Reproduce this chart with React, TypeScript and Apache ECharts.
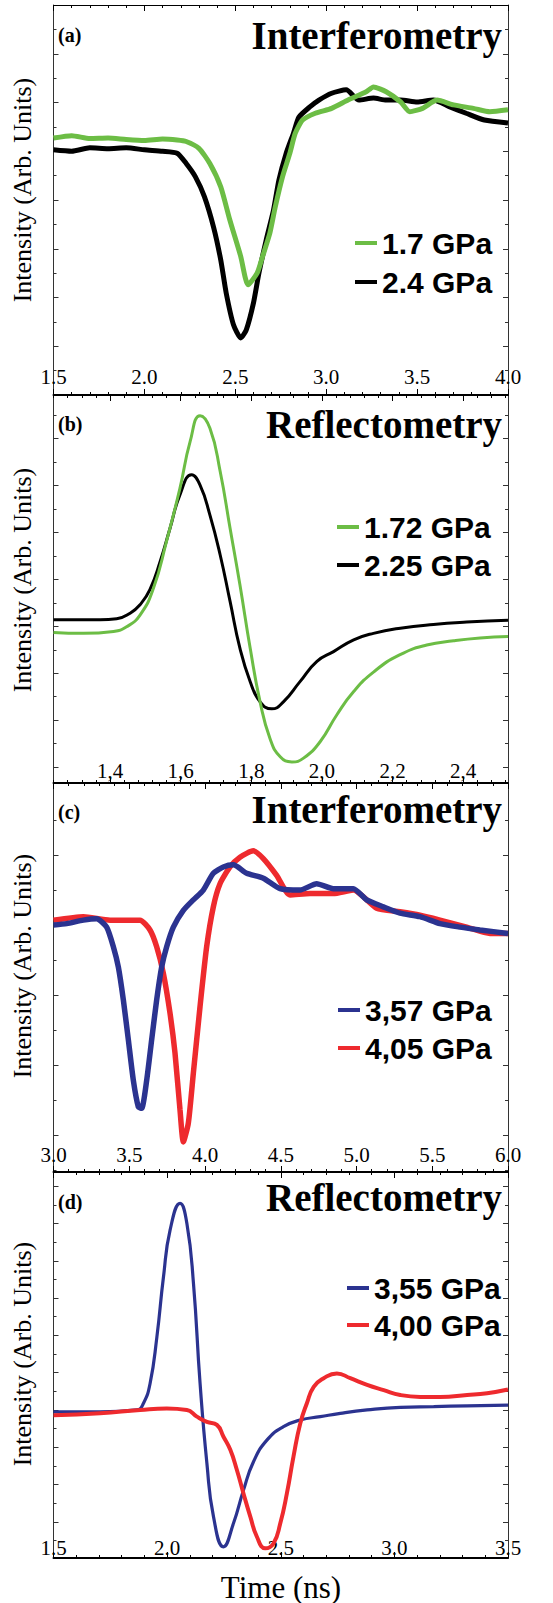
import React, { useEffect, useRef } from "react";
import * as echarts from "echarts";

// ---------------- data (time in ns, intensity in arbitrary units) ----------------
// Panel (a) Interferometry
const A_17GPA: [number, number][] = [
  [1.5, 5.27], [1.6, 5.32], [1.7, 5.26], [1.8, 5.27], [1.9, 5.24], [2.0, 5.22], [2.1, 5.25],
  [2.18, 5.23], [2.23, 5.2], [2.3, 5.06], [2.36, 4.75], [2.42, 4.27], [2.47, 3.59], [2.53, 2.84],
  [2.57, 2.26], [2.62, 2.5], [2.65, 2.84], [2.69, 3.32], [2.72, 3.86], [2.76, 4.48], [2.8, 4.96],
  [2.83, 5.37], [2.87, 5.64], [2.94, 5.78], [3.03, 5.88], [3.12, 6.05], [3.22, 6.22], [3.26, 6.32],
  [3.33, 6.22], [3.41, 6.01], [3.46, 5.81], [3.53, 5.88], [3.61, 6.05], [3.7, 5.95], [3.81, 5.88],
  [3.9, 5.81], [4.0, 5.85],
];
const A_24GPA: [number, number][] = [
  [1.5, 5.03], [1.6, 5.0], [1.7, 5.07], [1.8, 5.05], [1.9, 5.07], [2.0, 5.03], [2.1, 5.0],
  [2.18, 4.96], [2.23, 4.75], [2.28, 4.48], [2.33, 4.07], [2.38, 3.45], [2.42, 2.77], [2.45, 2.09],
  [2.49, 1.44], [2.53, 1.17], [2.56, 1.33], [2.6, 1.89], [2.63, 2.5], [2.67, 3.18], [2.71, 3.79],
  [2.74, 4.41], [2.78, 4.96], [2.82, 5.37], [2.85, 5.7], [2.91, 5.91], [2.96, 6.05], [3.03, 6.19],
  [3.11, 6.26], [3.18, 6.05], [3.26, 6.09], [3.33, 6.05], [3.41, 6.05], [3.5, 6.01], [3.59, 6.05],
  [3.68, 5.91], [3.77, 5.78], [3.87, 5.64], [4.0, 5.58],
];

// Panel (b) Reflectometry
const B_172GPA: [number, number][] = [
  [1.24, 3.21], [1.325, 3.19], [1.41, 3.23], [1.447, 3.33], [1.485, 3.58], [1.523, 4.15],
  [1.56, 5.15], [1.598, 6.28], [1.627, 7.28], [1.655, 7.83], [1.683, 7.56], [1.712, 6.64],
  [1.74, 5.43], [1.768, 4.22], [1.797, 2.87], [1.825, 1.73], [1.853, 0.95], [1.882, 0.56],
  [1.915, 0.45], [1.948, 0.53], [1.995, 0.88], [2.042, 1.45], [2.09, 1.95], [2.147, 2.37],
  [2.22, 2.73], [2.297, 2.94], [2.373, 3.03], [2.448, 3.09], [2.527, 3.12],
];
const B_225GPA: [number, number][] = [
  [1.24, 3.48], [1.372, 3.48], [1.419, 3.5], [1.457, 3.62], [1.485, 3.8], [1.513, 4.12],
  [1.542, 4.72], [1.57, 5.43], [1.598, 6.14], [1.631, 6.57], [1.655, 6.35], [1.683, 5.71],
  [1.712, 4.86], [1.74, 3.87], [1.768, 2.87], [1.797, 2.16], [1.825, 1.73], [1.858, 1.58],
  [1.891, 1.73], [1.938, 2.16], [1.986, 2.59], [2.033, 2.8], [2.09, 3.05], [2.146, 3.19],
  [2.222, 3.3], [2.316, 3.38], [2.41, 3.43], [2.527, 3.47],
];

// Panel (c) Interferometry
const C_357GPA: [number, number][] = [
  [3.0, 3.53], [3.087, 3.55], [3.197, 3.6], [3.285, 3.62], [3.351, 3.5], [3.395, 3.22],
  [3.428, 2.93], [3.461, 2.46], [3.494, 1.89], [3.527, 1.31], [3.56, 0.93], [3.582, 0.91],
  [3.615, 1.31], [3.648, 1.89], [3.681, 2.46], [3.714, 2.93], [3.747, 3.22], [3.791, 3.5],
  [3.857, 3.74], [3.923, 3.89], [3.989, 4.03], [4.055, 4.27], [4.121, 4.36], [4.187, 4.39],
  [4.275, 4.27], [4.385, 4.2], [4.495, 4.05], [4.627, 4.03], [4.737, 4.12], [4.847, 4.05],
  [4.979, 4.05], [5.067, 3.89], [5.177, 3.79], [5.287, 3.7], [5.419, 3.65], [5.551, 3.55],
  [5.683, 3.5], [5.815, 3.46], [6.0, 3.41],
];
const C_405GPA: [number, number][] = [
  [3.0, 3.6], [3.197, 3.65], [3.373, 3.6], [3.571, 3.6], [3.637, 3.46], [3.681, 3.22],
  [3.725, 2.84], [3.769, 2.27], [3.802, 1.7], [3.835, 0.89], [3.857, 0.43], [3.89, 0.7],
  [3.923, 1.41], [3.967, 2.36], [4.011, 3.22], [4.055, 3.79], [4.099, 4.12], [4.165, 4.36],
  [4.231, 4.5], [4.319, 4.59], [4.385, 4.48], [4.473, 4.24], [4.561, 3.96], [4.693, 3.98],
  [4.847, 3.98], [4.979, 4.03], [5.133, 3.77], [5.287, 3.72], [5.419, 3.67], [5.551, 3.6],
  [5.727, 3.5], [5.881, 3.41], [6.0, 3.41],
];

// Panel (d) Reflectometry
const D_355GPA: [number, number][] = [
  [1.5, 3.92], [1.705, 3.92], [1.867, 3.97], [1.896, 4.15], [1.925, 4.68], [1.955, 5.93],
  [1.984, 7.54], [2.013, 8.79], [2.057, 9.51], [2.087, 8.97], [2.116, 7.36], [2.145, 4.68],
  [2.175, 2.54], [2.204, 1.11], [2.248, 0.3], [2.292, 0.93], [2.336, 1.82], [2.38, 2.58],
  [2.439, 3.16], [2.512, 3.52], [2.586, 3.7], [2.674, 3.79], [2.762, 3.88], [2.88, 3.97],
  [3.026, 4.04], [3.173, 4.06], [3.32, 4.08], [3.5, 4.1],
];
const D_400GPA: [number, number][] = [
  [1.5, 3.83], [1.705, 3.88], [1.881, 3.97], [1.999, 4.01], [2.087, 3.97], [2.131, 3.79],
  [2.175, 3.65], [2.219, 3.57], [2.248, 3.25], [2.278, 2.9], [2.307, 2.36], [2.336, 1.73],
  [2.366, 1.11], [2.395, 0.57], [2.432, 0.26], [2.468, 0.39], [2.498, 0.93], [2.527, 1.73],
  [2.556, 2.72], [2.586, 3.61], [2.615, 4.15], [2.645, 4.59], [2.689, 4.82], [2.747, 4.95],
  [2.806, 4.82], [2.88, 4.64], [2.953, 4.5], [3.026, 4.37], [3.114, 4.32], [3.202, 4.32],
  [3.32, 4.37], [3.408, 4.42], [3.5, 4.52],
];

// tick labels / tick values
const X_TICKS_A = [1.5, 2.0, 2.5, 3.0, 3.5, 4.0];
const X_TICKS_B = [1.4, 1.6, 1.8, 2.0, 2.2, 2.4];
const X_TICKS_C = [3.0, 3.5, 4.0, 4.5, 5.0, 5.5, 6.0];
const X_TICKS_D = [1.5, 2.0, 2.5, 3.0, 3.5];
const Y_TICKS_A = [1, 2, 3, 4, 5, 6, 7];
const Y_TICKS_B = [0.34, 1.34, 2.34, 3.34, 4.34, 5.34, 6.34, 7.34];
const Y_TICKS_C = [0.53, 1.53, 2.53, 3.53, 4.53];
const Y_TICKS_D = [0.97, 1.97, 2.97, 3.97, 4.97, 5.97, 6.97, 7.97, 8.97, 9.97];

const TITLES = ["Interferometry", "Reflectometry", "Interferometry", "Reflectometry"];
const TAGS = ["(a)", "(b)", "(c)", "(d)"];
const Y_NAME = "Intensity (Arb. Units)";
const X_NAME = "Time (ns)";

const GREEN = "#6cbd45";
const BLACK = "#000000";
const NAVY = "#2b3390";
const RED = "#ee2a2e";

const SERIF = '"Liberation Serif", "Times New Roman", Times, serif';
const SANS = '"Liberation Sans", Arial, Helvetica, sans-serif';

type Ser = { name: string; data: [number, number][]; color: string; width: number };

const PANELS = [
  {
    top: 5, height: 390, xmin: 1.5, xmax: 4.0, ymin: 0, ymax: 8,
    xTicks: X_TICKS_A, xMinor: 0.1, yTicks: Y_TICKS_A, comma: false, labelMargin: 8,
    smooth: 0.2, titleDy: 30.5, tagDy: 30, yNameDy: 185,
    legend: { left: 355, top: 228, gap: 9, names: ["1.7 GPa", "2.4 GPa"] },
    series: [
      { name: "2.4 GPa", data: A_24GPA, color: BLACK, width: 5 },
      { name: "1.7 GPa", data: A_17GPA, color: GREEN, width: 5 },
    ] as Ser[],
  },
  {
    top: 395, height: 388, xmin: 1.24, xmax: 2.527, ymin: 0, ymax: 8.27,
    xTicks: X_TICKS_B, xMinor: 0.04, yTicks: Y_TICKS_B, comma: true, labelMargin: 2,
    smooth: 0.5, titleDy: 29.5, tagDy: 29, yNameDy: 185,
    legend: { left: 337, top: 512, gap: 8, names: ["1.72 GPa", "2.25 GPa"] },
    series: [
      { name: "2.25 GPa", data: B_225GPA, color: BLACK, width: 3 },
      { name: "1.72 GPa", data: B_172GPA, color: GREEN, width: 3 },
    ] as Ser[],
  },
  {
    top: 783, height: 389, xmin: 3.0, xmax: 6.0, ymin: 0, ymax: 5.56,
    xTicks: X_TICKS_C, xMinor: 0.1, yTicks: Y_TICKS_C, comma: false, labelMargin: 7,
    smooth: 0.2, titleDy: 26.5, tagDy: 29, yNameDy: 183,
    legend: { left: 338, top: 995, gap: 8, names: ["3,57 GPa", "4,05 GPa"] },
    series: [
      { name: "4,05 GPa", data: C_405GPA, color: RED, width: 5.5 },
      { name: "3,57 GPa", data: C_357GPA, color: NAVY, width: 5.5 },
    ] as Ser[],
  },
  {
    top: 1172, height: 386, xmin: 1.5, xmax: 3.5, ymin: 0, ymax: 10.35,
    xTicks: X_TICKS_D, xMinor: 0.1, yTicks: Y_TICKS_D, comma: false, labelMargin: 0,
    smooth: 0.5, titleDy: 25.5, tagDy: 30, yNameDy: 182,
    legend: { left: 347, top: 1273, gap: 7, names: ["3,55 GPa", "4,00 GPa"] },
    series: [
      { name: "3,55 GPa", data: D_355GPA, color: NAVY, width: 3.2 },
      { name: "4,00 GPa", data: D_400GPA, color: RED, width: 4 },
    ] as Ser[],
  },
];

const LEFT = 53.5;
const RIGHT = 508;
const W = 553;
const H = 1603;

function stepValues(min: number, max: number, step: number): number[] {
  const out: number[] = [];
  const start = Math.ceil(min / step - 1e-6);
  for (let k = start; k * step <= max + 1e-9; k++) out.push(Math.round(k * step * 1e6) / 1e6);
  return out;
}

function yMinor(ticks: number[], min: number, max: number): number[] {
  const s = ticks.length > 1 ? ticks[1] - ticks[0] : 1;
  const out: number[] = [];
  const first = ticks[0] - s / 2;
  for (let v = first; v <= max; v += s) if (v >= min) out.push(Math.round(v * 1e6) / 1e6);
  return out;
}

function buildOption() {
  const grid: any[] = [];
  const xAxis: any[] = [];
  const yAxis: any[] = [];
  const series: any[] = [];
  const legend: any[] = [];
  const graphic: any[] = [];

  PANELS.forEach((p, i) => {
    grid.push({ left: LEFT, width: RIGHT - LEFT, top: p.top, height: p.height, containLabel: false });
    const fmt = (v: number) => (p.comma ? v.toFixed(1).replace(".", ",") : v.toFixed(1));
    const minorX = stepValues(p.xmin, p.xmax, p.xMinor);
    const mkX = (pos: string, values: number[], len: number, lineW: number, label: boolean) => ({
      type: "value",
      gridIndex: i,
      position: pos,
      min: p.xmin,
      max: p.xmax,
      axisLine: { show: lineW > 0, onZero: false, lineStyle: { color: "#000", width: lineW } },
      axisTick: { show: true, inside: true, length: len, customValues: values, lineStyle: { color: "#000", width: 1 } },
      axisLabel: label
        ? {
            show: true, inside: true, margin: p.labelMargin, customValues: values, formatter: fmt,
            fontFamily: SERIF, fontSize: 21, color: "#000",
          }
        : { show: false },
      splitLine: { show: false },
    });
    xAxis.push(mkX("bottom", p.xTicks, 6, 2, true));
    xAxis.push(mkX("bottom", minorX, 3, 0, false));
    xAxis.push(mkX("top", p.xTicks, 6, 1, false));
    xAxis.push(mkX("top", minorX, 3, 0, false));

    const minorY = yMinor(p.yTicks, p.ymin, p.ymax);
    const mkY = (pos: string, values: number[], len: number, lineW: number) => ({
      type: "value",
      gridIndex: i,
      position: pos,
      min: p.ymin,
      max: p.ymax,
      axisLine: { show: lineW > 0, onZero: false, lineStyle: { color: "#333", width: lineW } },
      axisTick: { show: true, inside: true, length: len, customValues: values, lineStyle: { color: "#333", width: 1 } },
      axisLabel: { show: false },
      splitLine: { show: false },
    });
    yAxis.push(mkY("left", p.yTicks, 5, 1));
    yAxis.push(mkY("left", minorY, 3, 0));
    yAxis.push(mkY("right", p.yTicks, 5, 1));
    yAxis.push(mkY("right", minorY, 3, 0));

    p.series.forEach((s) => {
      series.push({
        type: "line",
        name: s.name,
        xAxisIndex: i * 4,
        yAxisIndex: i * 4,
        data: s.data,
        showSymbol: false,
        symbol: "none",
        smooth: p.smooth,
        color: s.color,
        lineStyle: { color: s.color, width: s.width },
        itemStyle: { color: s.color },
        z: 3,
      });
    });

    legend.push({
      data: p.legend.names,
      orient: "vertical",
      left: p.legend.left,
      top: p.legend.top,
      itemGap: p.legend.gap,
      itemWidth: 22,
      itemHeight: 4,
      icon: "rect",
      padding: 0,
      selectedMode: false,
      textStyle: { fontFamily: SANS, fontWeight: "bold", fontSize: 30, color: "#000" },
    });

    graphic.push({
      type: "text",
      x: 502,
      y: p.top + p.titleDy,
      style: {
        text: TITLES[i], fontFamily: SERIF, fontWeight: "bold", fontSize: 39, fill: "#000",
        textAlign: "right", textVerticalAlign: "middle",
      },
      z: 10,
    });
    graphic.push({
      type: "text",
      x: 58,
      y: p.top + p.tagDy,
      style: {
        text: TAGS[i], fontFamily: SERIF, fontWeight: "bold", fontSize: 20, fill: "#000",
        textAlign: "left", textVerticalAlign: "middle",
      },
      z: 10,
    });
    graphic.push({
      type: "text",
      x: 22,
      y: p.top + p.yNameDy,
      rotation: Math.PI / 2,
      style: {
        text: Y_NAME, fontFamily: SERIF, fontSize: 26, fill: "#000",
        textAlign: "center", textVerticalAlign: "middle",
      },
      z: 10,
    });
  });

  graphic.push({
    type: "text",
    x: 281,
    y: 1587,
    style: {
      text: X_NAME, fontFamily: SERIF, fontSize: 31, fill: "#000",
      textAlign: "center", textVerticalAlign: "middle",
    },
    z: 10,
  });

  return {
    animation: false,
    backgroundColor: "#fff",
    grid,
    xAxis,
    yAxis,
    series,
    legend,
    graphic,
  };
}

export default function App() {
  const ref = useRef<HTMLDivElement>(null);
  useEffect(() => {
    document.body.style.margin = "0";
    if (!ref.current) return;
    const chart = echarts.init(ref.current, undefined, { renderer: "svg" });
    chart.setOption(buildOption() as any);
    return () => chart.dispose();
  }, []);
  return <div ref={ref} style={{ width: W, height: H }} />;
}
